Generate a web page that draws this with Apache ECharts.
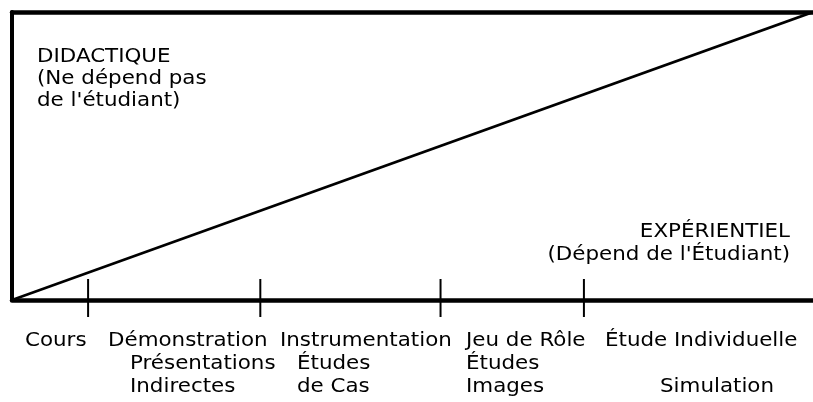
<!DOCTYPE html>
<html>
<head>
<meta charset="utf-8">
<script src="https://cdn.jsdelivr.net/npm/echarts@6/dist/echarts.min.js"></script>
<style>
html,body{margin:0;padding:0;background:#fff;}
#main{width:813px;height:402px;}
</style>
</head>
<body>
<div id="main"></div>
<script>
// ---- data ----
var diagonal = [[0, 0], [100, 100]];            // didactique -> expérientiel
var tickPositions = [9.5, 31, 53.5, 71.4];       // separators on the continuum
var tickExtent = [-5.9, 7.3];                    // below / above the axis (y units)
var methodLines = [
  ['Cours'],
  ['Démonstration', 'Présentations', 'Indirectes'],
  ['Instrumentation', 'Études', 'de Cas'],
  ['Jeu de Rôle', 'Études', 'Images'],
  ['Étude Individuelle', '', 'Simulation']
];
var leftTitle = ['DIDACTIQUE', '(Ne dépend pas', "de l'étudiant)"];
var rightTitle = ['EXPÉRIENTIEL', "(Dépend de l'Étudiant)"];

// ---- layout (pixels) ----
var FONT = '20px "DejaVu Sans"';
var SX = 1.07;
var methodLeft = [[25], [108, 130, 130], [280, 297, 297], [466, 466, 466], [605, 0, 660]];
var methodRowY = [341, 364, 387];

var chart = echarts.init(document.getElementById('main'), null, {renderer: 'canvas'});

function txt(t, x, y, align) {
  return {type: 'text', x: x, y: y, scaleX: SX, silent: true,
          style: {text: t, font: FONT, fill: '#000', align: align || 'left', verticalAlign: 'middle'}};
}
var graphics = [];
methodLines.forEach(function (lines, i) {
  lines.forEach(function (t, j) {
    if (t) graphics.push(txt(t, methodLeft[i][j], methodRowY[j]));
  });
});
leftTitle.forEach(function (t, j) { graphics.push(txt(t, 37, 57 + j * 22)); });
rightTitle.forEach(function (t, j) { graphics.push(txt(t, 790, 232 + j * 23, 'right')); });

var noAxisExtras = {axisTick: {show: false}, axisLabel: {show: false}, splitLine: {show: false}};
chart.setOption({
  animation: false,
  backgroundColor: '#fff',
  grid: {left: 12, right: 0, top: 12, bottom: 102, containLabel: false},
  xAxis: [
    Object.assign({type: 'value', min: 0, max: 100, position: 'bottom',
     axisLine: {show: true, onZero: false, lineStyle: {color: '#000', width: 4.5}}}, noAxisExtras),
    Object.assign({type: 'value', min: 0, max: 100, position: 'top',
     axisLine: {show: true, onZero: false, lineStyle: {color: '#000', width: 4.5}}}, noAxisExtras)
  ],
  yAxis: Object.assign({type: 'value', min: 0, max: 100,
    axisLine: {show: true, onZero: false, lineStyle: {color: '#000', width: 4}}}, noAxisExtras),
  series: [
    {type: 'line', data: diagonal, symbol: 'none', lineStyle: {color: '#000', width: 2.6}, z: 3},
    {type: 'custom', clip: false, z: 4,
     data: tickPositions.map(function (x) { return [x, tickExtent[0], tickExtent[1]]; }),
     renderItem: function (params, api) {
       var a = api.coord([api.value(0), api.value(1)]);
       var b = api.coord([api.value(0), api.value(2)]);
       return {type: 'line', shape: {x1: a[0], y1: a[1], x2: b[0], y2: b[1]},
               style: {stroke: '#000', lineWidth: 2}};
     }}
  ],
  graphic: graphics
});
</script>
</body>
</html>
